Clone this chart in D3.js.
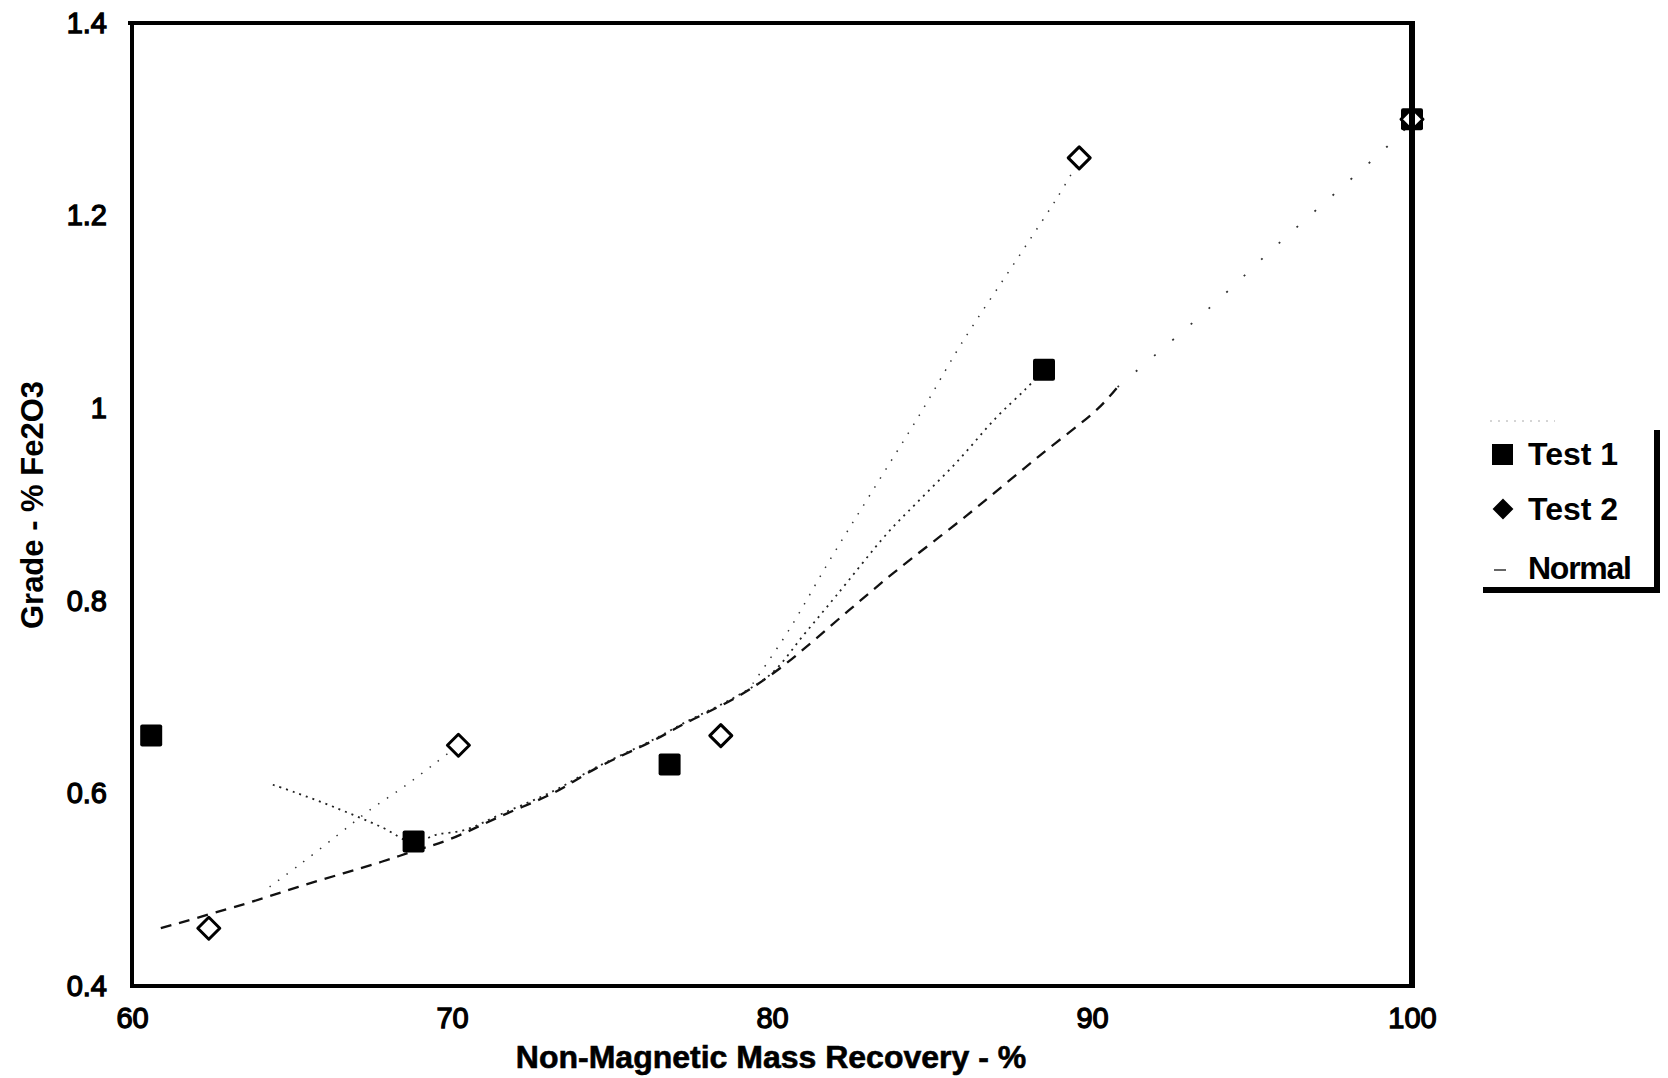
<!DOCTYPE html>
<html>
<head>
<meta charset="utf-8">
<script src="https://cdn.jsdelivr.net/npm/d3@7"></script>
<style>
  body { margin: 0; background: #fff; }
  svg { display: block; font-family: "Liberation Sans", Arial, sans-serif; }
</style>
</head>
<body>
<svg id="chart" width="1668" height="1078"></svg>
<script>
// measured points (recovery %, grade %Fe2O3)
const test1X = [60.6, 68.8, 76.8, 88.5, 100];
const test1Y = [0.66, 0.55, 0.63, 1.04, 1.30];
const test2X = [62.4, 70.2, 78.4, 89.6, 100];
const test2Y = [0.46, 0.65, 0.66, 1.26, 1.30];

// curves
const test1LineX = [64.4, 65.1, 66.3, 67.8, 68.8, 69.5, 70.4, 71.5, 73.2, 74.5, 76.3, 77.3, 78.9, 80.0, 81.0, 82.0, 83.6, 84.5, 85.8, 87.0, 87.9, 88.5];
const test1LineY = [0.609, 0.601, 0.586, 0.565, 0.549, 0.557, 0.562, 0.578, 0.603, 0.627, 0.656, 0.674, 0.701, 0.725, 0.765, 0.805, 0.870, 0.901, 0.945, 0.990, 1.019, 1.04];

// null = break in the curve
const test2LineX = [64.3, 65.2, 66.4, 67.4, 68.5, 69.5, 70.2, null, 79.4, 80.5, 81.8, 83.1, 84.7, 85.9, 87.8, 88.9, 89.6];
const test2LineY = [0.503, 0.525, 0.556, 0.582, 0.607, 0.632, 0.650, null, 0.714, 0.768, 0.842, 0.912, 0.998, 1.066, 1.162, 1.218, 1.257];

const normalX = [60.9, 63.7, 65.2, 66.6, 67.8, 68.8, 69.9, 71.5, 73.2, 74.5, 76.3, 77.3, 78.9, 80.25, 82.4, 83.8, 86.1, 88.3, 90.2, 90.8, 93.7, 95.8, 99.2, 100];
const normalY = [0.460, 0.487, 0.503, 0.517, 0.529, 0.540, 0.552, 0.576, 0.601, 0.626, 0.655, 0.673, 0.700, 0.730, 0.790, 0.829, 0.889, 0.949, 1.000, 1.022, 1.105, 1.170, 1.271, 1.297];
const normalFadeFrom = 90.8;   // beyond this the dashes almost vanish

const xTicks = [60, 70, 80, 90, 100];
const yTicks = [0.4, 0.6, 0.8, 1, 1.2, 1.4];
const legendNames = ["Test 1", "Test 2", "Normal"];

const xTitle = "Non-Magnetic Mass Recovery - %";
const yTitle = "Grade - % Fe2O3";

// plot frame
const plot = {left: 132, right: 1412, top: 23, bottom: 986};

const svg = d3.select("#chart");

const x = d3.scaleLinear().domain([60, 100]).range([plot.left, plot.right]);
const y = d3.scaleLinear().domain([0.4, 1.4]).range([plot.bottom, plot.top]);

const zip = (xs, ys) => xs.map((d, i) => ({x: d, y: ys[i]}));

const line = d3.line()
    .defined(d => d.x != null)
    .x(d => x(d.x))
    .y(d => y(d.y))
    .curve(d3.curveCatmullRom.alpha(0.5));

/*
** axes (labels only, the frame is drawn separately)
*/
const xAxis = svg.append("g")
    .attr("transform", `translate(0,${plot.bottom})`)
    .call(d3.axisBottom(x).tickValues(xTicks).tickSize(0).tickPadding(21));

const yAxis = svg.append("g")
    .attr("transform", `translate(${plot.left},0)`)
    .call(d3.axisLeft(y).tickValues(yTicks).tickSize(0).tickPadding(25)
        .tickFormat(d => d3.format("~g")(d)));

[xAxis, yAxis].forEach(a => {
    a.select(".domain").remove();
    a.selectAll("text")
        .attr("font-family", "Liberation Sans, Arial, sans-serif")
        .attr("font-size", 29)
        .attr("fill", "#000")
        .attr("stroke", "#000")
        .attr("stroke-width", 1.3);
});

svg.append("text")
    .attr("x", 771)
    .attr("y", 1068)
    .attr("text-anchor", "middle")
    .attr("font-size", 32)
    .attr("font-weight", "bold")
    .attr("stroke", "#000")
    .attr("stroke-width", 0.6)
    .text(xTitle);

svg.append("text")
    .attr("transform", "translate(43,505) rotate(-90)")
    .attr("text-anchor", "middle")
    .attr("font-size", 31)
    .attr("font-weight", "bold")
    .text(yTitle);

/*
** curves
*/
const normalPts = zip(normalX, normalY);

svg.append("path")
    .datum(normalPts.filter(d => d.x <= normalFadeFrom))
    .attr("d", line)
    .attr("fill", "none")
    .attr("stroke", "#111")
    .attr("stroke-width", 2.3)
    .attr("stroke-dasharray", "11,8");

svg.append("path")
    .datum(normalPts.filter(d => d.x >= normalFadeFrom))
    .attr("d", line)
    .attr("fill", "none")
    .attr("stroke", "#333")
    .attr("stroke-width", 1.8)
    .attr("stroke-dasharray", "2,22");

svg.append("path")
    .datum(zip(test1LineX, test1LineY))
    .attr("d", line)
    .attr("fill", "none")
    .attr("stroke", "#222")
    .attr("stroke-width", 1.8)
    .attr("stroke-dasharray", "2,5");

svg.append("path")
    .datum(zip(test2LineX, test2LineY))
    .attr("d", line)
    .attr("fill", "none")
    .attr("stroke", "#333")
    .attr("stroke-width", 1.5)
    .attr("stroke-dasharray", "1.5,9");

/*
** markers
*/
const sq = 22, dia = 11;
const diamondPath = r => `M0,${-r}L${r},0L0,${r}L${-r},0Z`;

svg.selectAll(".t1")
    .data(zip(test1X, test1Y))
    .enter()
    .append("rect")
    .attr("class", "t1")
    .attr("x", d => x(d.x) - sq / 2)
    .attr("y", d => y(d.y) - sq / 2)
    .attr("width", sq)
    .attr("height", sq)
    .attr("rx", 2)
    .attr("fill", "#000");

svg.selectAll(".t2")
    .data(zip(test2X, test2Y))
    .enter()
    .append("path")
    .attr("class", "t2")
    .attr("transform", d => `translate(${x(d.x)},${y(d.y)})`)
    .attr("d", diamondPath(dia))
    .attr("fill", "#fff")
    .attr("stroke", "#000")
    .attr("stroke-width", 3)
    .attr("stroke-linejoin", "round");

// frame on top
const frame = svg.append("g").attr("fill", "none").attr("stroke", "#000");
frame.append("line").attr("x1", plot.left - 4).attr("x2", plot.right).attr("y1", plot.top).attr("y2", plot.top).attr("stroke-width", 4);
frame.append("line").attr("x1", plot.left).attr("x2", plot.left).attr("y1", plot.top - 2).attr("y2", plot.bottom + 2).attr("stroke-width", 4);
frame.append("line").attr("x1", plot.left - 2).attr("x2", plot.right + 3).attr("y1", plot.bottom).attr("y2", plot.bottom).attr("stroke-width", 4);
frame.append("line").attr("x1", plot.right).attr("x2", plot.right).attr("y1", plot.top - 2).attr("y2", plot.bottom + 2).attr("stroke-width", 6);

/*
** legend
*/
const legend = svg.append("g").attr("transform", "translate(1480,421)");

// only a faint trace of the box top survives
legend.append("line")
    .attr("x1", 10).attr("x2", 75)
    .attr("y1", 0).attr("y2", 0)
    .attr("stroke", "#aaa")
    .attr("stroke-width", 1)
    .attr("stroke-dasharray", "2,6");

// drop shadow
legend.append("path")
    .attr("d", "M3,169H177V9")
    .attr("fill", "none")
    .attr("stroke", "#000")
    .attr("stroke-width", 6);

const entry = legend.selectAll(".entry")
    .data(legendNames)
    .enter()
    .append("g")
    .attr("class", "entry")
    .attr("transform", (d, i) => `translate(0,${[33, 88, 147][i]})`);

entry.filter((d, i) => i === 0)
    .append("rect")
    .attr("x", 12).attr("y", -10)
    .attr("width", 21).attr("height", 21)
    .attr("fill", "#000");

entry.filter((d, i) => i === 1)
    .append("path")
    .attr("transform", "translate(23,0)")
    .attr("d", diamondPath(9))
    .attr("fill", "#000")
    .attr("stroke", "#000")
    .attr("stroke-width", 2);

entry.filter((d, i) => i === 2)
    .append("line")
    .attr("x1", 14).attr("x2", 26)
    .attr("y1", 2).attr("y2", 2)
    .attr("stroke", "#333")
    .attr("stroke-width", 1.5);

entry.append("text")
    .attr("x", 48)
    .attr("y", 11)
    .attr("font-size", 32)
    .attr("font-weight", "bold")
    .attr("textLength", d => ({"Test 1": 90, "Test 2": 90, "Normal": 104})[d])
    .text(d => d);
</script>
</body>
</html>
